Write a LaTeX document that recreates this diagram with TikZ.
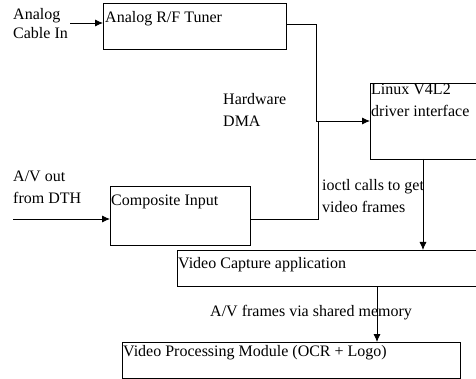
\documentclass[tikz,border=0pt]{standalone}
\usepackage{fontspec}
\setmainfont{Liberation Serif}
\usetikzlibrary{arrows.meta}
\begin{document}
\begin{tikzpicture}[x=1pt,y=-1pt,
  every node/.style={font=\fontsize{16}{22}\selectfont},
  box/.style={draw, line width=0.8pt, inner sep=0pt, anchor=north west},
  txt/.style={anchor=north west, inner sep=0pt, align=left},
  conn/.style={line width=0.8pt},
  arr/.style={line width=0.8pt, -{Latex[length=8pt,width=7pt]}}]
\useasboundingbox (0,0) rectangle (476,379);
\clip (0,0) rectangle (476,379);
\fill[white] (0,0) rectangle (476,379);
% boxes
\node[box, minimum width=183pt, minimum height=46pt,
  label={[txt, xshift=2pt, yshift=-8pt]north west:{Analog R/F Tuner}}] (tuner) at (103,3) {};
\node[box, minimum width=120pt, minimum height=76pt,
  label={[txt, xshift=1pt, yshift=-1pt]north west:{Linux V4L2\\driver interface}}] (linux) at (370,83) {};
\node[box, minimum width=140pt, minimum height=59pt,
  label={[txt, xshift=1pt, yshift=-9pt]north west:{Composite Input}}] (comp) at (110,186) {};
\node[box, minimum width=313pt, minimum height=36pt,
  label={[txt, xshift=1pt, yshift=-7pt]north west:{Video Capture application}}] (vca) at (177,250) {};
\node[box, minimum width=338pt, minimum height=36pt,
  label={[txt, xshift=1pt, yshift=-3pt]north west:{Video Processing Module (OCR + Logo)}}] (vpm) at (122,342) {};
% free texts
\node[txt, font=\fontsize{16}{19}\selectfont] (tcable) at (13,8) {Analog\\Cable In};
\node[txt] (tav) at (13,171) {A/V out\\from DTH};
\node[txt] (thw) at (223,93) {Hardware\\DMA};
\node[txt] (tio) at (322,179) {ioctl calls to get\\video frames};
\node[txt] (tsh) at (210,305) {A/V frames via shared memory};
% connectors
\coordinate (cin) at (70,23);
\coordinate (avin) at (13,219);
\coordinate (j1) at (316,24);
\coordinate (j2) at (316,121);
\coordinate (j3) at (318,219);
\coordinate (j4) at (318,121);
\draw[arr] (cin) -- (cin -| tuner.west);
\draw[arr] (avin) -- (avin -| comp.west);
\draw[conn] (j1 -| tuner.east) -- (j1) -- (j2);
\draw[conn] (j3 -| comp.east) -- (j3) -- (j4);
\draw[arr] (j2) -- (j2 -| linux.west);
\draw[arr] (423,159) coordinate (l1) -- (l1 |- vca.north);
\draw[arr] (377,286) coordinate (v1) -- (v1 |- vpm.north);
\end{tikzpicture}
\end{document}
